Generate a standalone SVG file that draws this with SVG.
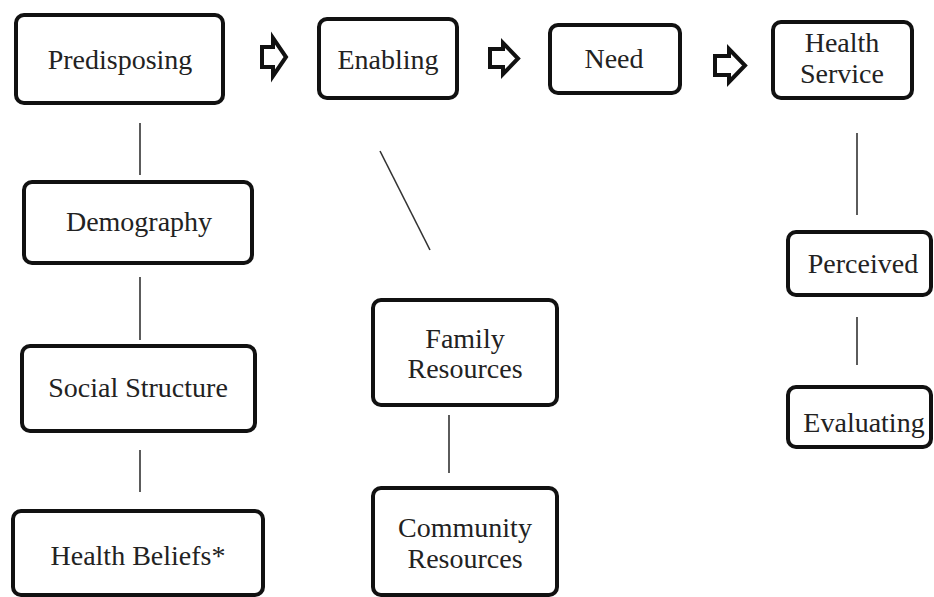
<svg xmlns="http://www.w3.org/2000/svg" width="934" height="597" viewBox="0 0 934 597" font-family="'Liberation Serif', 'Times New Roman', serif">
<style>
.box{fill:#fff;stroke:#111;stroke-width:4}
.t{font-family:'Liberation Serif','Times New Roman',serif;font-size:28px;fill:#222;text-anchor:middle}
.ln{stroke:#333;stroke-width:1.6;fill:none}
.arr{fill:#fff;stroke:#111;stroke-width:4;stroke-linejoin:miter}
</style>
<rect width="934" height="597" fill="#fff"/>
<g id="connectors">
<line class="ln" x1="140" y1="123" x2="140" y2="175"/>
<line class="ln" x1="140" y1="277" x2="140" y2="340"/>
<line class="ln" x1="140" y1="450" x2="140" y2="492"/>
<line class="ln" x1="380" y1="151" x2="430" y2="250"/>
<line class="ln" x1="449" y1="415" x2="449" y2="473"/>
<line class="ln" x1="857" y1="133" x2="857" y2="215"/>
<line class="ln" x1="857" y1="317" x2="857" y2="365"/>
<path class="arr" d="M262,47 L273,47 L273,38 L286,57 L273,76 L273,67 L262,67 Z"/>
<path class="arr" d="M490,49 L503,49 L503,43 L518,58.5 L503,74 L503,67 L490,67 Z"/>
<path class="arr" d="M715,56 L729,56 L729,49 L745,65.5 L729,82 L729,75 L715,75 Z"/>
</g>
<g id="predisposing"><rect class="box" x="16" y="15" width="207" height="88" rx="8"/><text class="t" font-family="Liberation Serif" x="120" y="69">Predisposing</text></g>
<g id="enabling"><rect class="box" x="319" y="19" width="138" height="79" rx="8"/><text class="t" font-family="Liberation Serif" x="388" y="69">Enabling</text></g>
<g id="need"><rect class="box" x="550" y="25" width="130" height="68" rx="8"/><text class="t" font-family="Liberation Serif" x="614" y="68">Need</text></g>
<g id="health-service"><rect class="box" x="773" y="22" width="139" height="76" rx="8"/><text class="t" font-family="Liberation Serif" x="842" y="52">Health</text><text class="t" font-family="Liberation Serif" x="842" y="83">Service</text></g>
<g id="demography"><rect class="box" x="24" y="182" width="228" height="81" rx="8"/><text class="t" font-family="Liberation Serif" x="139" y="231">Demography</text></g>
<g id="social-structure"><rect class="box" x="22" y="346" width="233" height="85" rx="8"/><text class="t" font-family="Liberation Serif" x="138" y="397">Social Structure</text></g>
<g id="health-beliefs"><rect class="box" x="13" y="511" width="250" height="84" rx="8"/><text class="t" font-family="Liberation Serif" x="138" y="565">Health Beliefs*</text></g>
<g id="family-resources"><rect class="box" x="373" y="300" width="184" height="105" rx="8"/><text class="t" font-family="Liberation Serif" x="465" y="348">Family</text><text class="t" font-family="Liberation Serif" x="465" y="378">Resources</text></g>
<g id="community-resources"><rect class="box" x="373" y="488" width="184" height="107" rx="8"/><text class="t" font-family="Liberation Serif" x="465" y="537">Community</text><text class="t" font-family="Liberation Serif" x="465" y="568">Resources</text></g>
<g id="perceived"><rect class="box" x="788" y="232" width="143" height="63" rx="8"/><text class="t" font-family="Liberation Serif" x="863" y="273">Perceived</text></g>
<g id="evaluating"><rect class="box" x="788" y="387" width="143" height="60" rx="8"/><text class="t" font-family="Liberation Serif" x="864" y="432">Evaluating</text></g>
</svg>
